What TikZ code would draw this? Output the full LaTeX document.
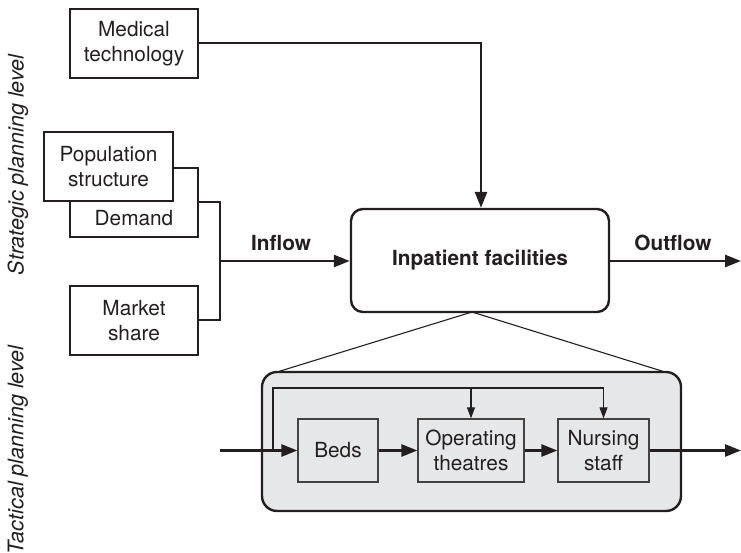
\documentclass[tikz,border=0pt]{standalone}
\usepackage{fontspec}
\setmainfont{TeX Gyre Heros}
\usetikzlibrary{arrows.meta,calc}
\definecolor{ink}{HTML}{231F20}
\definecolor{panel}{HTML}{E6E7E8}
\begin{document}
\begin{tikzpicture}[x=1pt,y=-1pt,
  every node/.style={font=\fontsize{20.8}{25}\selectfont, text=ink},
  sbox/.style={draw=ink, line width=1.3pt, fill=white, inner sep=0pt, align=center},
  ibox/.style={draw=ink!85, line width=1.3pt, inner sep=0pt, align=center},
  thick line/.style={draw=ink, line width=2.6pt},
  thin line/.style={draw=ink, line width=1.1pt},
  bigarrow/.style={-{Triangle[length=16pt,width=12pt]}},
  smallarrow/.style={-{Triangle[length=11pt,width=8pt]}},
  lab/.style={font=\fontsize{20.8}{25}\selectfont\bfseries},
  side/.style={font=\fontsize{21.5}{25}\selectfont\itshape, rotate=90}
]
\useasboundingbox (0,0) rectangle (741,553);

% side labels
\node[side] (strat) at (18,165) {Strategic planning level};
\node[side] (tact) at (18,450) {Tactical planning level};

% strategic boxes
\node[sbox, minimum width=128pt, minimum height=69pt] (med) at (134,43.5) {Medical\\technology};
\node[sbox, minimum width=128pt, minimum height=69pt] (dem) at (134,202.5) {};
\node (demtxt) at (134,218) {Demand};
\node[sbox, minimum width=129pt, minimum height=69pt] (pop) at (108.5,166.5) {Population\\structure};
\node[sbox, minimum width=128pt, minimum height=69pt] (mkt) at (134,320.5) {Market\\share};

% inpatient facilities
\node[draw=ink, line width=2.4pt, rounded corners=12pt, minimum width=258pt, minimum height=103pt,
      font=\fontsize{20.8}{25}\selectfont\bfseries] (inp) at (480,260.5) {Inpatient facilities};

% bracket + inflow
\coordinate (bt) at (220,202);
\coordinate (bb) at (220,320);
\coordinate (bm) at (220,261);
\draw[thick line] (dem.east |- bt) -- (bt) -- (bb) -- (mkt.east |- bb);
\draw[thick line, bigarrow] (bm) -- (inp.west |- bm);
\node[lab] (inflow) at (281,243) {Inflow};

% medical technology arrow
\coordinate (mc) at (481,43);
\draw[thick line, bigarrow] (med.east |- mc) -- (mc) -- (mc |- inp.north);

% outflow
\coordinate (outend) at (741,261);
\draw[thick line, bigarrow] (inp.east |- outend) -- (outend);
\node[lab] (outflow) at (673,243) {Outflow};

% tactical panel
\node[draw=ink, line width=2.4pt, fill=panel, rounded corners=15pt, minimum width=419pt, minimum height=139pt] (tac) at (471.5,441.5) {};
\coordinate (tl) at (277,372);
\coordinate (tr) at (665,372);
\coordinate (ib) at (472,312);
\draw[thin line] (tl) -- (ib) -- (tr);

% inner boxes
\node[ibox, minimum width=80pt, minimum height=63pt] (beds) at (338,450.5) {Beds};
\node[ibox, minimum width=106pt, minimum height=63pt] (ot) at (471,450.5) {Operating\\theatres};
\node[ibox, minimum width=91pt, minimum height=63pt] (ns) at (603.5,450.5) {Nursing\\staff};

% feedback lines
\coordinate (f0) at (273,451);
\coordinate (f1) at (273,388);
\coordinate (f2) at (603.5,388);
\coordinate (fm) at (471,388);
\draw[thin line, smallarrow] (f0) -- (f1) -- (f2) -- (ns.north);
\draw[thin line, smallarrow] (fm) -- (ot.north);

% main flow
\coordinate (tin) at (220,450.5);
\coordinate (tout) at (741,450.5);
\draw[thick line, bigarrow] (tin) -- (beds.west);
\draw[thick line, bigarrow] (beds.east) -- (ot.west);
\draw[thick line, bigarrow] (ot.east) -- (ns.west);
\draw[thick line, bigarrow] (ns.east) -- (tout);
\end{tikzpicture}
\end{document}
